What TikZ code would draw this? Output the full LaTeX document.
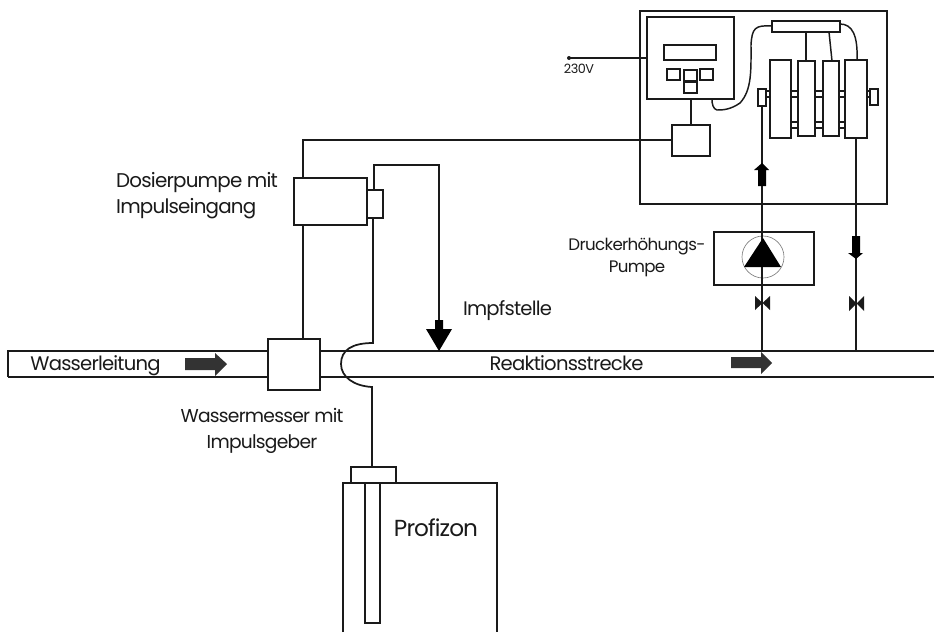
\documentclass[tikz,border=0pt]{standalone}
\usepackage{fontspec}
\setmainfont{Poppins}[LetterSpace=-4]
\usetikzlibrary{calc}
\definecolor{ink}{HTML}{1A1A1A}
\definecolor{flow}{HTML}{333333}
\tikzset{
  device/.style={draw=ink,line width=1.5pt,fill=white,inner sep=0pt,outer sep=0pt},
  thin device/.style={device,line width=1.1pt},
  pipeline/.style={draw=ink,line width=1.1pt},
  wire/.style={draw=ink,line width=1.3pt},
  label/.style={inner sep=0pt,outer sep=0pt,font=\fontsize{14.7pt}{17pt}\selectfont,text=ink,align=center},
  oneline/.style={label,anchor=base},
  valve/.style={fill=ink,draw=none},
  flowarrow/.style={fill=flow,draw=none},
  solidarrow/.style={fill=black,draw=none}
}
\newcommand{\bx}[6][device]{\node[#1,minimum width={(#5-#3)*.75pt},minimum height={(#6-#4)*.75pt}] (#2) at ({(#3+#5)/2},{(#4+#6)/2}) {};}
\begin{document}
\begin{tikzpicture}[x=.75pt,y=-.75pt]
\useasboundingbox (0,0) rectangle (934,632);
% cabinet
\bx{cabinet}{640}{11}{887}{204}
% main pipe
\coordinate (pipeTL) at (8,351);
\coordinate (pipeBL) at (8,377);
\coordinate (pipeTR) at (934,351);
\coordinate (pipeBR) at (934,377);
\draw[pipeline] (pipeTR) -- (pipeTL) -- (pipeBL);
\draw[pipeline,line width=1.6pt] (pipeBL) -- (pipeBR);
% controller
\bx{controller}{647}{17}{734}{99}
\bx[thin device]{display}{664}{45}{716}{60}
\bx[thin device]{btnA}{667}{69}{680}{80}
\bx[thin device]{btnB}{684}{70}{697}{81}
\bx[thin device]{btnC}{700}{69}{713}{80}
\bx[thin device]{btnD}{684}{82}{697}{93}
\bx{relay}{672}{125}{710}{156}
% cell bars
\bx[thin device]{barA}{759}{91}{878}{97}
\bx[thin device]{barB}{791}{122}{845}{128}
% cells
\bx{cellA}{770}{60}{791}{138}
\bx{cellB}{798}{61}{815}{136}
\bx{cellC}{823}{61}{839}{136}
\bx{cellD}{845}{60}{867}{138}
\bx[thin device]{portL}{758}{89}{766}{106}
\bx[thin device]{portR}{870}{89}{878}{105}
\bx{manifold}{772}{21}{840}{32}
% dosing pump and meter
\bx{dosepump}{294}{178}{367}{225}
\bx[thin device]{dosehead}{367}{190}{383}{218}
\bx{meter}{268}{339}{320}{390}
% tank
\coordinate (tankBL) at (343,632);
\coordinate (tankBR) at (497,632);
\coordinate (tankTL) at (343,483);
\coordinate (tankTR) at (497,483);
\draw[pipeline,line width=1.4pt] (tankBL) -- (tankTL) -- (tankTR) -- (tankBR);
\bx{tankcap}{351}{467}{396}{483}
\bx[thin device]{tube}{365}{483}{380}{623}
% booster pump
\bx{booster}{714}{232}{814}{285}
\coordinate (pumpC) at (763,257);
\draw[gray,line width=.5pt] (pumpC) circle[radius=21];
% connectors
\coordinate (supply) at (569,58);
\fill[ink] (supply) circle[radius=2];
\draw[wire] (supply) -- (supply -| controller.west);
\draw[wire] (controller.south -| relay.north) -- (relay.north);
\draw[wire] (relay.west |- 0,140) -- (303,140) -- (303,178);
\draw[wire] (303,225) -- (303,339);
\draw[wire] (374,190) -- (374,165) -- (439,165) -- (439,325);
\draw[wire] (373,218) -- (373,343) .. controls (352,343) and (341,350) .. (341,364)
   .. controls (341,377) and (354,386) .. (372,387) -- (372,467);
\draw[wire,line width=1.1pt] (772,26) .. controls (755,25) and (752,28) .. (751,45)
   .. controls (751,70) and (752,90) .. (740,103)
   .. controls (730,110) and (722,110) .. (717,110) .. controls (713,109) and (712,104) .. (712,99);
\draw[wire,line width=1.1pt] (840,24) .. controls (852,24) and (858,35) .. (857,60);
\draw[wire,line width=1.1pt] (806,32) -- (806,61);
\draw[wire,line width=1.1pt] (829,32) -- (832,61);
\draw[wire] (762,106) -- (762,351);
\draw[wire] (856,138) -- (856,351);
% solid arrows
\fill[solidarrow] (435,320) -- (443,320) -- (443,329) -- (452,329) -- (439,351) -- (426,329) -- (435,329) -- cycle;
\fill[solidarrow] (762,163) -- (769,170) -- (766,170) -- (766,186) -- (758,186) -- (758,170) -- (754,170) -- cycle;
\fill[solidarrow] (852,236) -- (860,236) -- (860,253) -- (863,253) -- (856,259) -- (848,253) -- (852,253) -- cycle;
\fill[solidarrow] (763,238) -- (781,267) -- (744,267) -- cycle;
% valves
\fill[valve] (755,296) -- (770,310) -- (770,296) -- (755,310) -- cycle;
\fill[valve] (849,296) -- (864,311) -- (864,296) -- (849,311) -- cycle;
% flow arrows
\fill[flowarrow] (185,358) -- (215,358) -- (215,353) -- (227,364) -- (215,376) -- (215,370) -- (185,370) -- cycle;
\fill[flowarrow] (731,357) -- (761,357) -- (761,352) -- (772,363) -- (761,374) -- (761,368) -- (731,368) -- cycle;
% labels
\node[oneline] (lWasser) at (95.5,370) {Wasserleitung};
\node[oneline] (lReak) at (566.5,370) {Reaktionsstrecke};
\node[oneline] (lImpf) at (507.5,315) {Impfstelle};
\node[label,align=left,font=\fontsize{14.9pt}{19.5pt}\selectfont] (lDos) at (197,196) {Dosierpumpe mit\\Impulseingang};
\node[label,font=\fontsize{14pt}{19.5pt}\selectfont] (lMess) at (262,431) {Wassermesser mit\\Impulsgeber};
\node[label,font=\fontsize{12.5pt}{16.5pt}\selectfont] (lDruck) at (637,257) {Druckerhöhungs-\\Pumpe};
\node[oneline,font=\fontsize{17.4pt}{20pt}\selectfont] (lProf) at (436,536) {Profizon};
\node[label,font=\fontsize{9.6pt}{11pt}\selectfont] (lVolt) at (579,69) {230V};
\end{tikzpicture}
\end{document}
